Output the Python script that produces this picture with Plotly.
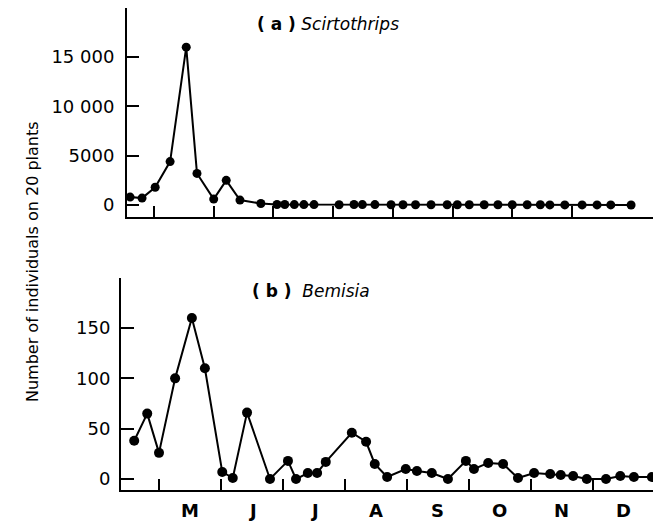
import plotly.graph_objects as go

# ---- data (x in fractional months: 5.0 = 1 May, 6.0 = 1 June, ...) ----
scir_x = [4.60, 4.80, 5.02, 5.27, 5.54, 5.72, 6.00, 6.21, 6.44, 6.79, 7.06, 7.19, 7.35, 7.51, 7.68,
          8.10, 8.35, 8.49, 8.70, 8.97, 9.17, 9.38, 9.64, 9.91, 10.08, 10.28, 10.53, 10.76, 11.00,
          11.25, 11.47, 11.63, 11.88, 12.17, 12.42, 12.65, 12.99]
scir_y = [800, 700, 1800, 4400, 16000, 3200, 600, 2500, 500, 150, 50, 50, 40, 40, 40,
          30, 50, 40, 40, 20, 30, 30, 20, 20, 30, 20, 20, 20, 20,
          20, 20, 10, 10, 10, 10, 10, 0]

bem_x = [4.60, 4.81, 5.00, 5.26, 5.53, 5.74, 6.02, 6.19, 6.42, 6.79, 7.08, 7.21, 7.40, 7.55, 7.69,
         8.11, 8.34, 8.48, 8.68, 8.98, 9.16, 9.40, 9.66, 9.95, 10.08, 10.31, 10.55, 10.79, 11.05,
         11.31, 11.48, 11.68, 11.90, 12.21, 12.44, 12.66, 12.95]
bem_y = [38, 65, 26, 100, 160, 110, 7, 1, 66, 0, 18, 0, 6, 6, 17,
         46, 37, 15, 2, 10, 8, 6, 0, 18, 10, 16, 15, 1, 6,
         5, 4, 3, 0, 0, 3, 2, 2]

month_ticks = [5, 6, 7, 8, 9, 10, 11, 12]
month_label_pos = [5.5, 6.5, 7.5, 8.5, 9.5, 10.5, 11.5, 12.5]
month_labels = ["M", "J", "J", "A", "S", "O", "N", "D"]

scir_ticks = [0, 5000, 10000, 15000]
scir_ticktext = ["0", "5000", "10 000", "15 000"]
bem_ticks = [0, 50, 100, 150]
bem_ticktext = ["0", "50", "100", "150"]

W, H = 653, 523
FONT = "DejaVu Sans"

fig = go.Figure()
fig.add_trace(go.Scatter(x=scir_x, y=scir_y, mode="lines+markers", xaxis="x", yaxis="y",
                         line=dict(color="black", width=2),
                         marker=dict(color="black", size=9), showlegend=False))
fig.add_trace(go.Scatter(x=bem_x, y=bem_y, mode="lines+markers", xaxis="x2", yaxis="y2",
                         line=dict(color="black", width=2),
                         marker=dict(color="black", size=10), showlegend=False, cliponaxis=False))

axis_common = dict(showline=True, linecolor="black", linewidth=2, showgrid=False, zeroline=False,
                   ticks="inside", tickcolor="black", tickwidth=2, automargin=False)

fig.update_layout(
    width=W, height=H,
    margin=dict(l=0, r=0, t=0, b=0),
    paper_bgcolor="white", plot_bgcolor="white",
    font=dict(family=FONT, color="black", size=17),
    xaxis=dict(domain=[127 / W, 1], range=[4.548, 13.357], tickvals=month_ticks,
               showticklabels=False, ticklen=11, anchor="y", **axis_common),
    yaxis=dict(domain=[1 - 217 / H, 1 - 8 / H], range=[-1216, 19966], tickvals=scir_ticks,
               ticktext=scir_ticktext, ticklen=12, ticklabelstandoff=7, anchor="x",
               tickfont=dict(size=18, family=FONT), **axis_common),
    xaxis2=dict(domain=[121 / W, 1], range=[4.387, 12.968], tickvals=month_ticks,
                showticklabels=False, ticklen=11, anchor="y2", **axis_common),
    yaxis2=dict(domain=[1 - 490 / H, 1 - 278 / H], range=[-10.9, 199.7], tickvals=bem_ticks,
                ticktext=bem_ticktext, ticklen=13, ticklabelstandoff=5, anchor="x2",
                tickfont=dict(size=18, family=FONT), **axis_common),
)

for pos, lab in zip(month_label_pos, month_labels):
    fig.add_annotation(x=pos, xref="x2", y=1 - 510 / H, yref="paper", text="<b>" + lab + "</b>",
                       showarrow=False, xanchor="center", yanchor="middle",
                       font=dict(size=18, family=FONT))

fig.add_annotation(x=255 / W, xref="paper", y=1 - 24 / H, yref="paper",
                   text="<b>( a )</b> <i>Scirtothrips</i>", showarrow=False,
                   xanchor="left", yanchor="middle", font=dict(size=17, family=FONT))
fig.add_annotation(x=250 / W, xref="paper", y=1 - 291 / H, yref="paper",
                   text="<b>( b )</b>  <i>Bemisia</i>", showarrow=False,
                   xanchor="left", yanchor="middle", font=dict(size=17, family=FONT))
fig.add_annotation(x=32 / W, xref="paper", y=1 - 262 / H, yref="paper",
                   text="Number of individuals on 20 plants", textangle=-90, showarrow=False,
                   xanchor="center", yanchor="middle", font=dict(size=16, family=FONT))

fig.write_html("out.html")
